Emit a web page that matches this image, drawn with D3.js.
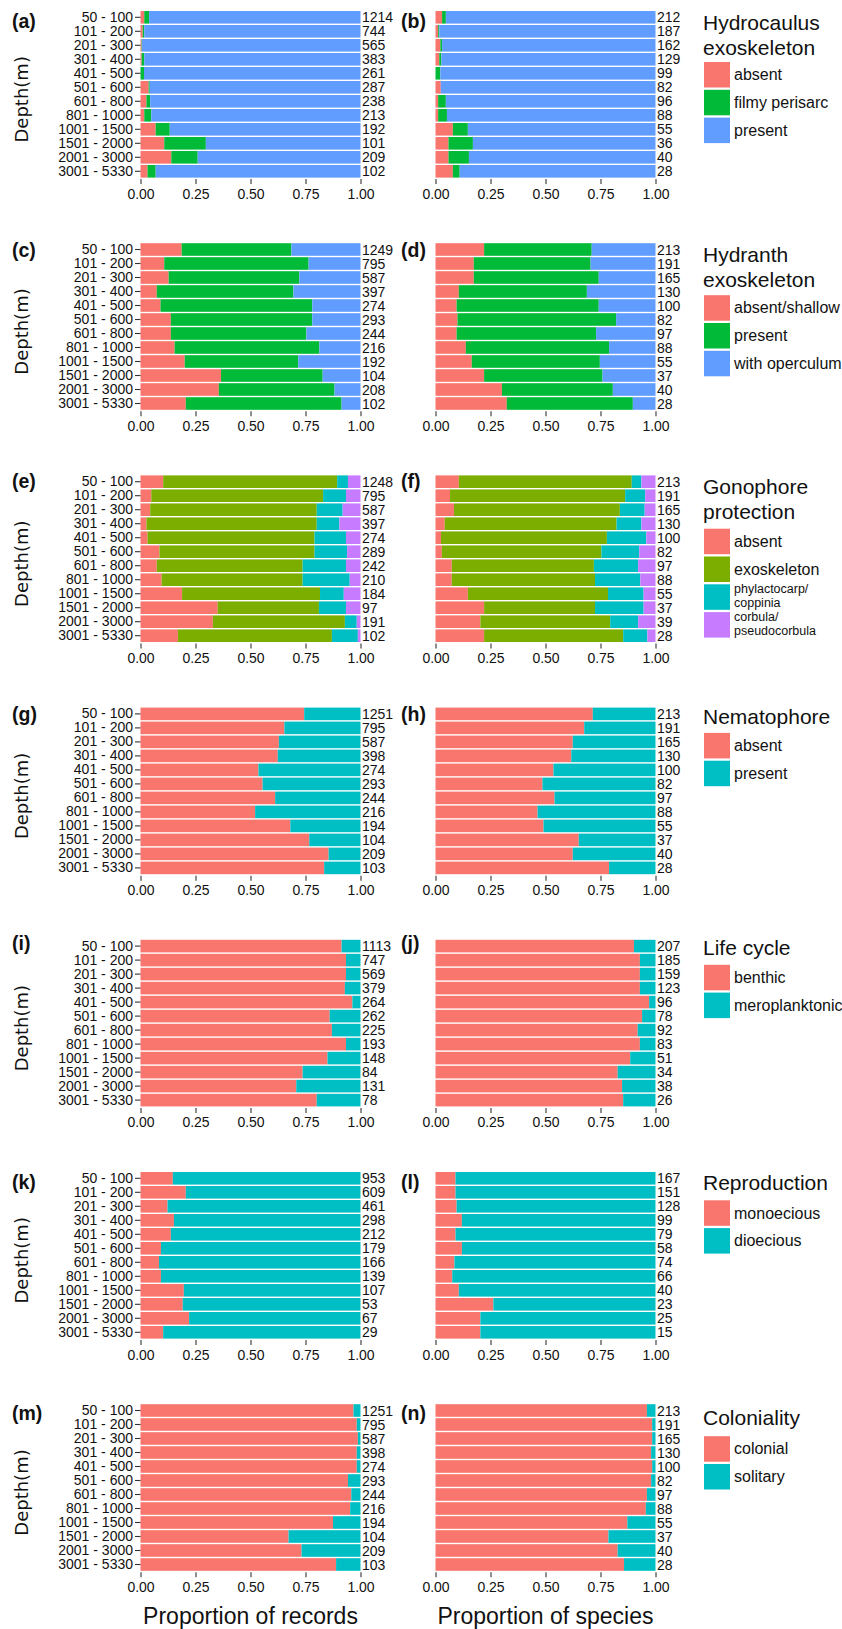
<!DOCTYPE html>
<html><head><meta charset="utf-8">
<script src="https://cdn.jsdelivr.net/npm/d3@7"></script>
<style>
body{margin:0;background:#fff}
text{font-family:"Liberation Sans",Arial,Helvetica,sans-serif;fill:#111}
</style>
</head><body>
<svg id="chart" width="842" height="1629"></svg>
<script>
// ---------- DATA ----------
const depths = ["50 - 100","101 - 200","201 - 300","301 - 400","401 - 500","501 - 600","601 - 800","801 - 1000","1001 - 1500","1501 - 2000","2001 - 3000","3001 - 5330"];
const xTicks = [0, 0.25, 0.5, 0.75, 1];
const xTickLabels = ["0.00","0.25","0.50","0.75","1.00"];
const panelLabels = [["(a)","(b)"],["(c)","(d)"],["(e)","(f)"],["(g)","(h)"],["(i)","(j)"],["(k)","(l)"],["(m)","(n)"]];
const axisTitles = ["Proportion of records","Proportion of species"];

// Hydrocaulus exoskeleton
const hcCats = ["absent","filmy perisarc","present"];
const hcRecAbsent  = [.017,.010,.005,.005,.000,.037,.027,.017,.069,.108,.140,.032];
const hcRecFilmy   = [.022,.007,.002,.012,.016,.005,.017,.032,.064,.189,.120,.037];
const hcRecPresent = [.961,.983,.993,.983,.984,.958,.956,.951,.867,.703,.740,.931];
const hcRecN = [1214,744,565,383,261,287,238,213,192,101,209,102];
const hcSpAbsent  = [.030,.012,.022,.017,.000,.024,.012,.012,.079,.059,.059,.079];
const hcSpFilmy   = [.017,.005,.008,.010,.022,.000,.035,.040,.068,.111,.093,.031];
const hcSpPresent = [.953,.983,.970,.973,.978,.976,.953,.948,.853,.830,.848,.890];
const hcSpN = [212,187,162,129,99,82,96,88,55,36,40,28];

// Hydranth exoskeleton
const hyCats = ["absent/shallow","present","with operculum"];
const hyRecAbsent = [.187,.108,.128,.074,.091,.138,.138,.155,.201,.366,.356,.206];
const hyRecPresent = [.499,.656,.594,.621,.690,.643,.616,.658,.516,.462,.526,.708];
const hyRecOperc = [.314,.236,.278,.305,.219,.219,.246,.187,.283,.172,.118,.086];
const hyRecN = [1249,795,587,397,274,293,244,216,192,104,208,102];
const hySpAbsent = [.221,.174,.174,.106,.096,.100,.096,.138,.165,.221,.302,.324];
const hySpPresent = [.489,.531,.568,.582,.646,.721,.634,.651,.582,.538,.504,.573];
const hySpOperc = [.290,.295,.258,.312,.258,.179,.270,.211,.253,.241,.194,.103];
const hySpN = [213,191,165,130,100,82,97,88,55,37,40,28];

// Gonophore protection
const goCats = ["absent","exoskeleton","phylactocarp/\ncoppinia","corbula/\npseudocorbula"];
const goRecAbsent = [.103,.049,.044,.027,.032,.086,.074,.096,.189,.351,.329,.170];
const goRecExo = [.791,.781,.757,.774,.759,.705,.663,.641,.627,.460,.600,.700];
const goRecPhyl = [.049,.104,.118,.103,.143,.148,.197,.214,.108,.123,.054,.118];
const goRecCorb = [.057,.066,.081,.096,.066,.061,.066,.049,.076,.066,.017,.012];
const goRecN = [1248,795,587,397,274,289,242,210,184,97,191,102];
const goSpAbsent = [.106,.066,.084,.042,.025,.029,.074,.074,.147,.221,.204,.221];
const goSpExo = [.786,.796,.754,.781,.754,.725,.646,.651,.637,.504,.590,.632];
const goSpPhyl = [.044,.091,.113,.113,.179,.172,.201,.206,.162,.221,.127,.110];
const goSpCorb = [.064,.047,.049,.064,.042,.074,.079,.069,.054,.054,.079,.037];
const goSpN = [213,191,165,130,100,82,97,88,55,37,39,28];

// Nematophore
const neCats = ["absent","present"];
const neRecAbsent = [.744,.654,.629,.624,.536,.555,.612,.521,.681,.767,.855,.835];
const neRecPresent = [.256,.346,.371,.376,.464,.445,.388,.479,.319,.233,.145,.165];
const neRecN = [1251,795,587,398,274,293,244,216,194,104,209,103];
const neSpAbsent = [.715,.676,.624,.617,.536,.486,.541,.464,.491,.651,.624,.789];
const neSpPresent = [.285,.324,.376,.383,.464,.514,.459,.536,.509,.349,.376,.211];
const neSpN = [213,191,165,130,100,82,97,88,55,37,40,28];

// Life cycle
const lcCats = ["benthic","meroplanktonic"];
const lcRecBenthic = [.914,.934,.934,.929,.963,.860,.870,.934,.850,.737,.708,.801];
const lcRecMero = [.086,.066,.066,.071,.037,.140,.130,.066,.150,.263,.292,.199];
const lcRecN = [1113,747,569,379,264,262,225,193,148,84,131,78];
const lcSpBenthic = [.902,.929,.929,.929,.971,.939,.919,.929,.885,.828,.848,.853];
const lcSpMero = [.098,.071,.071,.071,.029,.061,.081,.071,.115,.172,.152,.147];
const lcSpN = [207,185,159,123,96,78,92,83,51,34,38,26];

// Reproduction
const reCats = ["monoecious","dioecious"];
const reRecMono = [.147,.206,.123,.152,.138,.093,.084,.093,.197,.192,.221,.103];
const reRecDio = [.853,.794,.877,.848,.862,.907,.916,.907,.803,.808,.779,.897];
const reRecN = [953,609,461,298,212,179,166,139,107,53,67,29];
const reSpMono = [.091,.091,.096,.120,.091,.120,.086,.076,.106,.263,.204,.204];
const reSpDio = [.909,.909,.904,.880,.909,.880,.914,.924,.894,.737,.796,.796];
const reSpN = [167,151,128,99,79,58,74,66,40,23,25,15];

// Coloniality
const coCats = ["colonial","solitary"];
const coRecColonial = [.968,.983,.988,.983,.983,.943,.958,.953,.875,.673,.732,.889];
const coRecSolitary = [.032,.017,.012,.017,.017,.057,.042,.047,.125,.327,.268,.111];
const coRecN = [1251,795,587,398,274,293,244,216,194,104,209,103];
const coSpColonial = [.961,.985,.985,.980,.985,.980,.961,.956,.872,.786,.828,.857];
const coSpSolitary = [.039,.015,.015,.020,.015,.020,.039,.044,.128,.214,.172,.143];
const coSpN = [213,191,165,130,100,82,97,88,55,37,40,28];

const legendTitles = [["Hydrocaulus","exoskeleton"],["Hydranth","exoskeleton"],["Gonophore","protection"],["Nematophore"],["Life cycle"],["Reproduction"],["Coloniality"]];

// ---------- TABLES BUILT FROM THE ARRAYS ----------
const pal3 = ["#F8766D","#00BA38","#619CFF"];
const pal4 = ["#F8766D","#7CAE00","#00BFC4","#C77CFF"];
const pal2 = ["#F8766D","#00BFC4"];
const rows = [
  {cats:hcCats, colors:pal3, panels:[{series:[hcRecAbsent,hcRecFilmy,hcRecPresent],n:hcRecN},{series:[hcSpAbsent,hcSpFilmy,hcSpPresent],n:hcSpN}]},
  {cats:hyCats, colors:pal3, panels:[{series:[hyRecAbsent,hyRecPresent,hyRecOperc],n:hyRecN},{series:[hySpAbsent,hySpPresent,hySpOperc],n:hySpN}]},
  {cats:goCats, colors:pal4, panels:[{series:[goRecAbsent,goRecExo,goRecPhyl,goRecCorb],n:goRecN},{series:[goSpAbsent,goSpExo,goSpPhyl,goSpCorb],n:goSpN}]},
  {cats:neCats, colors:pal2, panels:[{series:[neRecAbsent,neRecPresent],n:neRecN},{series:[neSpAbsent,neSpPresent],n:neSpN}]},
  {cats:lcCats, colors:pal2, panels:[{series:[lcRecBenthic,lcRecMero],n:lcRecN},{series:[lcSpBenthic,lcSpMero],n:lcSpN}]},
  {cats:reCats, colors:pal2, panels:[{series:[reRecMono,reRecDio],n:reRecN},{series:[reSpMono,reSpDio],n:reSpN}]},
  {cats:coCats, colors:pal2, panels:[{series:[coRecColonial,coRecSolitary],n:coRecN},{series:[coSpColonial,coSpSolitary],n:coSpN}]}
];

// ---------- LAYOUT ----------
const panelX = [140.5, 435.5], panelW = 220;
const rowTop0 = 10.3, rowStep = 232.2, bandLen = 168;
const panelLabelX = [12, 401];
const panelLabelCenter = [12, 9, 8, 9, 5, 12, 11];
const legTitleOff = [[11.7,36.7],[11.7,36.7],[12,37],[10],[8.7],[11],[13.7]];
const legKeyOff = [51.7,52.7,54,26,25.7,29,32.7];
const keyX = 704, keyW = 26, keyH = 25.5, keyStep = 27.8, keyLabelX = 734, legTitleX = 703;

const svg = d3.select("#chart");

rows.forEach((row, ri) => {
  const T = rowTop0 + ri * rowStep;
  const y = d3.scaleBand().domain(depths).range([T, T + bandLen]).paddingInner(0.1).paddingOuter(0.05);
  const keys = row.cats.map((c, i) => "k" + i);

  row.panels.forEach((p, pi) => {
    const x = d3.scaleLinear().domain([0, 1]).range([panelX[pi], panelX[pi] + panelW]);
    const table = depths.map((d, di) => {
      const o = {depth: d};
      keys.forEach((k, ki) => o[k] = p.series[ki][di]);
      return o;
    });
    const stacked = d3.stack().keys(keys)(table);
    const g = svg.append("g");
    stacked.forEach((layer, li) => {
      g.selectAll(null).data(layer).enter().append("rect")
        .attr("x", d => x(d[0]))
        .attr("width", d => Math.max(0, x(d[1]) - x(d[0])))
        .attr("y", d => y(d.data.depth))
        .attr("height", y.bandwidth())
        .attr("fill", row.colors[li]);
    });

    // counts at right of bars
    g.selectAll(null).data(depths).enter().append("text")
      .attr("x", x(1) + 1.5)
      .attr("y", d => y(d) + y.bandwidth() / 2)
      .attr("dy", "0.36em")
      .attr("font-size", 14)
      .text((d, di) => p.n[di]);

    // x axis
    const xa = d3.axisBottom(x).tickValues(xTicks).tickFormat((d, i) => xTickLabels[i]).tickSize(5).tickPadding(4.5);
    const ax = svg.append("g").attr("transform", `translate(0,${T + bandLen + 0.8})`).call(xa);
    ax.select(".domain").remove();
    ax.selectAll(".tick line").attr("stroke", "#333").attr("stroke-width", 1.1);
    ax.selectAll(".tick text").attr("font-size", 14).attr("fill", "#111")
      .style("font-family", '"Liberation Sans",Arial,sans-serif');

    // panel label
    svg.append("text").attr("x", panelLabelX[pi]).attr("y", T + panelLabelCenter[ri] + 5.5)
      .attr("font-size", 19.5).attr("font-weight", "bold").text(panelLabels[ri][pi]);
  });

  // y axis (left panel only)
  const ya = d3.axisLeft(y).tickSize(5.5).tickPadding(2);
  const ay = svg.append("g").attr("transform", `translate(${panelX[0]},0)`).call(ya);
  ay.select(".domain").remove();
  ay.selectAll(".tick line").attr("stroke", "#333").attr("stroke-width", 1.1);
  ay.selectAll(".tick text").attr("font-size", 14).attr("fill", "#111")
    .style("font-family", '"Liberation Sans",Arial,sans-serif');

  // y title
  svg.append("text")
    .attr("transform", `translate(27.5,${T + 89}) rotate(-90)`)
    .attr("text-anchor", "middle")
    .style("font-family", '"DejaVu Sans",Verdana,sans-serif')
    .attr("font-size", 18)
    .text("Depth(m)");

  // legend
  legendTitles[ri].forEach((t, ti) => {
    svg.append("text").attr("x", legTitleX).attr("y", T + legTitleOff[ri][ti]).attr("dy", "0.36em")
      .attr("font-size", 21).text(t);
  });
  row.cats.forEach((c, ci) => {
    const ky = T + legKeyOff[ri] + ci * keyStep;
    svg.append("rect").attr("x", keyX).attr("y", ky).attr("width", keyW).attr("height", keyH).attr("fill", row.colors[ci]);
    const lines = c.split("\n");
    const cy = ky + keyH / 2;
    if (lines.length === 1) {
      svg.append("text").attr("x", keyLabelX).attr("y", cy + 5.5).attr("font-size", 16).text(c);
    } else {
      lines.forEach((l, li) => svg.append("text").attr("x", keyLabelX)
        .attr("y", cy - 4.3 + li * 14.1).attr("font-size", 12.5).text(l));
    }
  });
});

// bottom axis titles
axisTitles.forEach((t, i) => {
  svg.append("text").attr("x", panelX[i] + panelW / 2).attr("y", 1624)
    .attr("text-anchor", "middle").attr("font-size", 23).text(t);
});
</script>
</body></html>
